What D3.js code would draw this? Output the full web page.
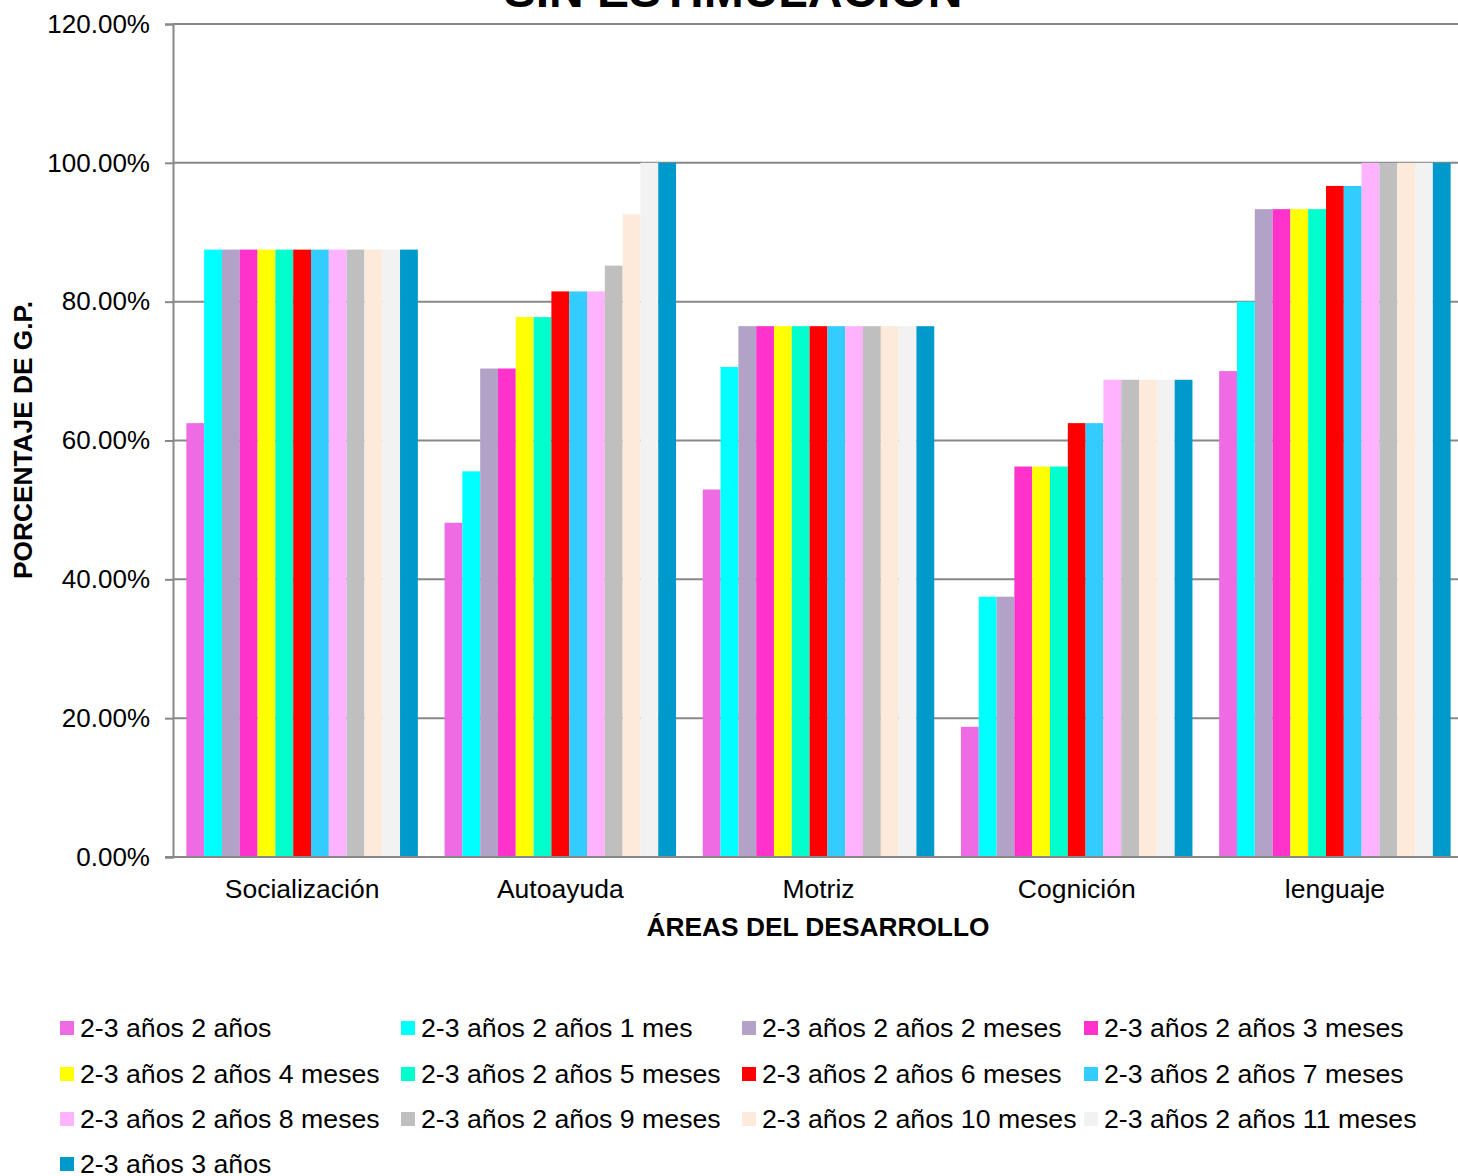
<!DOCTYPE html>
<html>
<head>
<meta charset="utf-8">
<script src="https://cdn.jsdelivr.net/npm/d3@7"></script>
<style>
  html, body { margin: 0; padding: 0; background: #fff; }
  svg { display: block; font-family: "Liberation Sans", Arial, sans-serif; }
</style>
</head>
<body>
<svg id="chart" width="1458" height="1176"></svg>
<script>
// Development areas (x categories)
const categories = ["Socialización", "Autoayuda", "Motriz", "Cognición", "lenguaje"];

// Age groups (series)
const seriesNames = [
  "2-3 años 2 años",
  "2-3 años 2 años 1 mes",
  "2-3 años 2 años 2 meses",
  "2-3 años 2 años 3 meses",
  "2-3 años 2 años 4 meses",
  "2-3 años 2 años 5 meses",
  "2-3 años 2 años 6 meses",
  "2-3 años 2 años 7 meses",
  "2-3 años 2 años 8 meses",
  "2-3 años 2 años 9 meses",
  "2-3 años 2 años 10 meses",
  "2-3 años 2 años 11 meses",
  "2-3 años 3 años"
];

const seriesColors = [
  "#EF6BE4", "#00FFFF", "#B3A2C7", "#FF33CC", "#FFFF00", "#00FFCC", "#FF0000",
  "#33CCFF", "#FFB3FF", "#BFBFBF", "#FDEADA", "#F2F2F2", "#0099CC"
];

// Percentage of G.P. per series, one value per area (same order as categories)
const s2a    = [0.625, 0.4815, 0.5294, 0.1875, 0.7000];
const s2a1m  = [0.875, 0.5556, 0.7059, 0.3750, 0.8000];
const s2a2m  = [0.875, 0.7037, 0.7647, 0.3750, 0.9333];
const s2a3m  = [0.875, 0.7037, 0.7647, 0.5625, 0.9333];
const s2a4m  = [0.875, 0.7778, 0.7647, 0.5625, 0.9333];
const s2a5m  = [0.875, 0.7778, 0.7647, 0.5625, 0.9333];
const s2a6m  = [0.875, 0.8148, 0.7647, 0.6250, 0.9667];
const s2a7m  = [0.875, 0.8148, 0.7647, 0.6250, 0.9667];
const s2a8m  = [0.875, 0.8148, 0.7647, 0.6875, 1.0000];
const s2a9m  = [0.875, 0.8519, 0.7647, 0.6875, 1.0000];
const s2a10m = [0.875, 0.9259, 0.7647, 0.6875, 1.0000];
const s2a11m = [0.875, 1.0000, 0.7647, 0.6875, 1.0000];
const s3a    = [0.875, 1.0000, 0.7647, 0.6875, 1.0000];

const seriesValues = [s2a, s2a1m, s2a2m, s2a3m, s2a4m, s2a5m, s2a6m, s2a7m,
                      s2a8m, s2a9m, s2a10m, s2a11m, s3a];

const yTicks = [0, 0.2, 0.4, 0.6, 0.8, 1.0, 1.2];

const titleText = "SIN ESTIMULACIÓN";
const xTitle = "ÁREAS DEL DESARROLLO";
const yTitle = "PORCENTAJE DE G.P.";

// ---- layout ----
const svg = d3.select("#chart");
// the plot area runs slightly past the right edge of the canvas
const plot = { left: 173, right: 1464, top: 24, bottom: 857 };
const visibleRight = 1458;

const y = d3.scaleLinear().domain([0, 1.2]).range([plot.bottom, plot.top]);

const gapRatio = 1.5 / (seriesNames.length + 1.5);
const x0 = d3.scaleBand()
  .domain(categories)
  .range([plot.left, plot.right])
  .paddingInner(gapRatio)
  .paddingOuter(gapRatio / 2);

const x1 = d3.scaleBand()
  .domain(d3.range(seriesNames.length))
  .range([0, x0.bandwidth()]);

const gridColor = "#888888";

// gridlines
svg.append("g")
  .selectAll("line")
  .data(yTicks.filter(t => t > 0))
  .join("line")
  .attr("x1", plot.left)
  .attr("x2", visibleRight)
  .attr("y1", d => y(d))
  .attr("y2", d => y(d))
  .attr("stroke", gridColor)
  .attr("stroke-width", 2);

// bars
const groups = svg.append("g")
  .selectAll("g")
  .data(categories)
  .join("g")
  .attr("transform", d => `translate(${x0(d)},0)`);

groups.selectAll("rect")
  .data((cat, ci) => seriesValues.map((vals, si) => ({ si, v: vals[ci] })))
  .join("rect")
  .attr("x", d => x1(d.si))
  .attr("width", x1.bandwidth())
  .attr("y", d => y(d.v))
  .attr("height", d => y(0) - y(d.v))
  .attr("fill", d => seriesColors[d.si]);

// y axis
const yAxis = d3.axisLeft(y)
  .tickValues(yTicks)
  .tickSize(8)
  .tickPadding(15)
  .tickFormat(d => (d * 100).toFixed(2) + "%");

const yg = svg.append("g")
  .attr("transform", `translate(${plot.left},0)`)
  .call(yAxis);
yg.select(".domain").attr("stroke", gridColor).attr("stroke-width", 2);
yg.selectAll(".tick line").attr("stroke", gridColor).attr("stroke-width", 2);
yg.selectAll(".tick text")
  .attr("font-size", 26)
  .attr("fill", "#000")
  .attr("font-family", "Liberation Sans, Arial, sans-serif");

// x axis
const xAxis = d3.axisBottom(x0).tickSize(0).tickPadding(22);
const xg = svg.append("g")
  .attr("transform", `translate(0,${plot.bottom})`)
  .call(xAxis);
xg.select(".domain").attr("stroke", gridColor).attr("stroke-width", 2)
  .attr("d", `M${plot.left - 8},0H${visibleRight}`);
xg.selectAll(".tick text")
  .attr("font-size", 26.5)
  .attr("fill", "#000")
  .attr("font-family", "Liberation Sans, Arial, sans-serif");

// titles
svg.append("text")
  .attr("x", 733)
  .attr("y", 7)
  .attr("text-anchor", "middle")
  .attr("font-size", 48)
  .attr("font-weight", "bold")
  .text(titleText);

svg.append("text")
  .attr("x", 818)
  .attr("y", 936)
  .attr("text-anchor", "middle")
  .attr("font-size", 26.3)
  .attr("font-weight", "bold")
  .text(xTitle);

svg.append("text")
  .attr("transform", "translate(32,440) rotate(-90)")
  .attr("text-anchor", "middle")
  .attr("font-size", 26.3)
  .attr("font-weight", "bold")
  .text(yTitle);

// legend: 4 columns
const legendX = [60, 401, 742, 1084];
const legendY = [1028, 1074, 1119, 1164];
const legend = svg.append("g")
  .selectAll("g")
  .data(seriesNames)
  .join("g")
  .attr("transform", (d, i) => `translate(${legendX[i % 4]},${legendY[Math.floor(i / 4)]})`);

legend.append("rect")
  .attr("x", 0)
  .attr("y", -7)
  .attr("width", 14)
  .attr("height", 14)
  .attr("fill", (d, i) => seriesColors[i]);

legend.append("text")
  .attr("x", 20)
  .attr("y", 9)
  .attr("font-size", 26.7)
  .attr("fill", "#000")
  .text(d => d);
</script>
</body>
</html>
